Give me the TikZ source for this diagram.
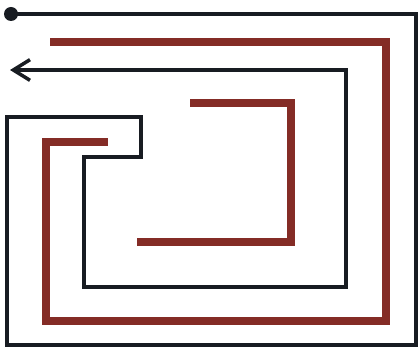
\documentclass[tikz,border=0pt]{standalone}
\usepackage{tikz}
\usetikzlibrary{arrows.meta}
\definecolor{wirered}{RGB}{132,44,38}
\definecolor{wireblack}{RGB}{24,28,34}
\begin{document}
\begin{tikzpicture}[
                    x=0.03cm, y=-0.03cm,
                    blackwire/.style={wireblack, line width=3pt, line join=miter},
                    redwire/.style={wirered, line width=6.4pt, line join=miter},
                ]
                    \useasboundingbox[fill=white] (0,0) rectangle (418,347);

                    % black wire
                    \coordinate (start) at (11,14);
                    \coordinate (tip) at (10,70);
                    \fill[wireblack] (start) circle (7);
                    \draw[blackwire, -{Straight Barb[length=0.5cm, width=0.62cm, line width=3pt]}]
                        (start) -- (416,14) -- (416,345) -- (7,345) -- (7,117) -- (141,117)
                        -- (141,157) -- (84,157) -- (84,287) -- (346,287) -- (346,70) -- (tip);

                    % red wires
                    \draw[redwire] (50,42) -- (386,42) -- (386,321) -- (46,321) -- (46,142) -- (108,142);
                    \draw[redwire] (190,103) -- (291,103) -- (291,242) -- (137,242);
                \end{tikzpicture}
\end{document}
